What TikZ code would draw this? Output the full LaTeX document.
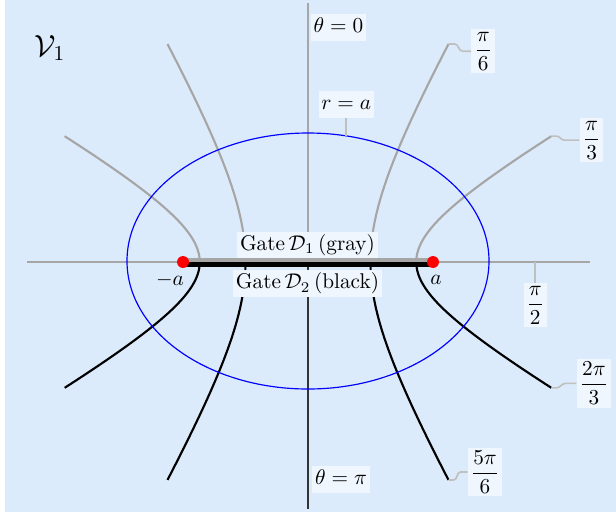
\documentclass[tikz,border=0pt]{standalone}
\usepackage{amsmath}
\definecolor{bgblue}{RGB}{220,235,251}
\definecolor{labfill}{RGB}{240,246,253}
\definecolor{curvegray}{RGB}{166,166,166}
\definecolor{pingray}{RGB}{192,192,192}
\begin{document}
\begin{tikzpicture}[x=0.47pt,y=-0.47pt,
  lab/.style={fill=labfill, inner sep=1.3pt},
  tlab/.style={lab, text height=7.5pt, text depth=2.5pt},
  gcurve/.style={curvegray, line width=1pt},
  bcurve/.style={black, line width=1pt},
  pinline/.style={pingray, line width=0.8pt},
  axisline/.style={curvegray, line width=1.05pt},
  focus/.style={circle, fill=red, inner sep=0pt, minimum size=5.6pt}]
\fill[bgblue] (5,0) rectangle (616,512);
\useasboundingbox (0,0) rectangle (616,515);

% axes
\coordinate (xl) at (27,262);
\coordinate (xr) at (590,262);
\coordinate (yt) at (308,3);
\coordinate (yb) at (308,509);
\coordinate (o) at (308,262);
\draw[axisline] (xl) -- (xr);
\draw[axisline] (yt) -- (yb);
\draw[black!80, line width=0.6pt] (o) -- (yb);

% hyperbolas
\foreach \t in {30,60,-30,-60}
  \draw[gcurve] plot[domain=0:1.45, samples=60, variable=\m]
    ({308+125*cosh(\m)*sin(\t)},{262-125*sinh(\m)*cos(\t)});
\foreach \t in {120,150,-120,-150}
  \draw[bcurve] plot[domain=0:1.45, samples=60, variable=\m]
    ({308+125*cosh(\m)*sin(\t)},{262-125*sinh(\m)*cos(\t)});

% ellipse r = a
\draw[blue, line width=0.55pt] (308,261) ellipse [x radius=85.07pt, y radius=60.16pt];

% curve end points
\coordinate (e6) at ({308+125*cosh(1.45)*sin(30)},{262-125*sinh(1.45)*cos(30)});
\coordinate (e3) at ({308+125*cosh(1.45)*sin(60)},{262-125*sinh(1.45)*cos(60)});
\coordinate (e23) at ({308+125*cosh(1.45)*sin(120)},{262-125*sinh(1.45)*cos(120)});
\coordinate (e56) at ({308+125*cosh(1.45)*sin(150)},{262-125*sinh(1.45)*cos(150)});
\coordinate (p2) at (535.3,262);
\coordinate (re) at (346.2,135.8);

% gate
\coordinate (fa) at (183,262);
\coordinate (fb) at (433,262);
\draw[curvegray, line width=1.7pt] ([yshift=0.85pt]fa) -- ([yshift=0.85pt]fb);
\draw[black, line width=2.2pt] ([yshift=-1.08pt]fa) -- ([yshift=-1.08pt]fb);
\node[focus] (A) at (fa) {};
\node[focus] (B) at (fb) {};

% labels
\node[tlab] (t0) at (338.5,27.3) {$\theta=0$};
\node[tlab] (tpi) at (341,479.6) {$\theta=\pi$};
\node[tlab, anchor=south] (ra) at (346.2,118.3) {$r=a$};
\draw[pinline] (re) -- (ra.south);
\node[tlab] (g1) at (307.5,245) {Gate\,$\mathcal{D}_1$\,(gray)};
\node[tlab] (g2) at (307.5,283.5) {Gate\,$\mathcal{D}_2$\,(black)};
\node (ma) at (170,280) {$-a$};
\node (pa) at (436,280) {$a$};
\node (V) at (50,48) {\Large $\mathcal{V}_1$};

\node[lab, anchor=west] (l6) at ([shift={(22.5,7.2)}]e6) {$\dfrac{\pi}{6}$};
\draw[pinline] (e6) -- ++(6,0) to[out=0,in=180] ++(8,7.2) -- (l6.west);
\node[lab, anchor=west] (l3) at ([shift={(28,4)}]e3) {$\dfrac{\pi}{3}$};
\draw[pinline] (e3) -- ++(5,0) to[out=0,in=180] ++(8,4) -- (l3.west);
\node[lab, anchor=north] (l2) at (535.3,283) {$\dfrac{\pi}{2}$};
\draw[pinline] (p2) -- (l2.north);
\node[lab, anchor=west] (l23) at ([shift={(25,-4.5)}]e23) {$\dfrac{2\pi}{3}$};
\draw[pinline] (e23) -- ++(5,0) to[out=0,in=180] ++(9,-4.5) -- (l23.west);
\node[lab, anchor=west] (l56) at ([shift={(19,-8)}]e56) {$\dfrac{5\pi}{6}$};
\draw[pinline] (e56) -- ++(5,0) to[out=0,in=180] ++(7,-8) -- (l56.west);
\end{tikzpicture}
\end{document}
